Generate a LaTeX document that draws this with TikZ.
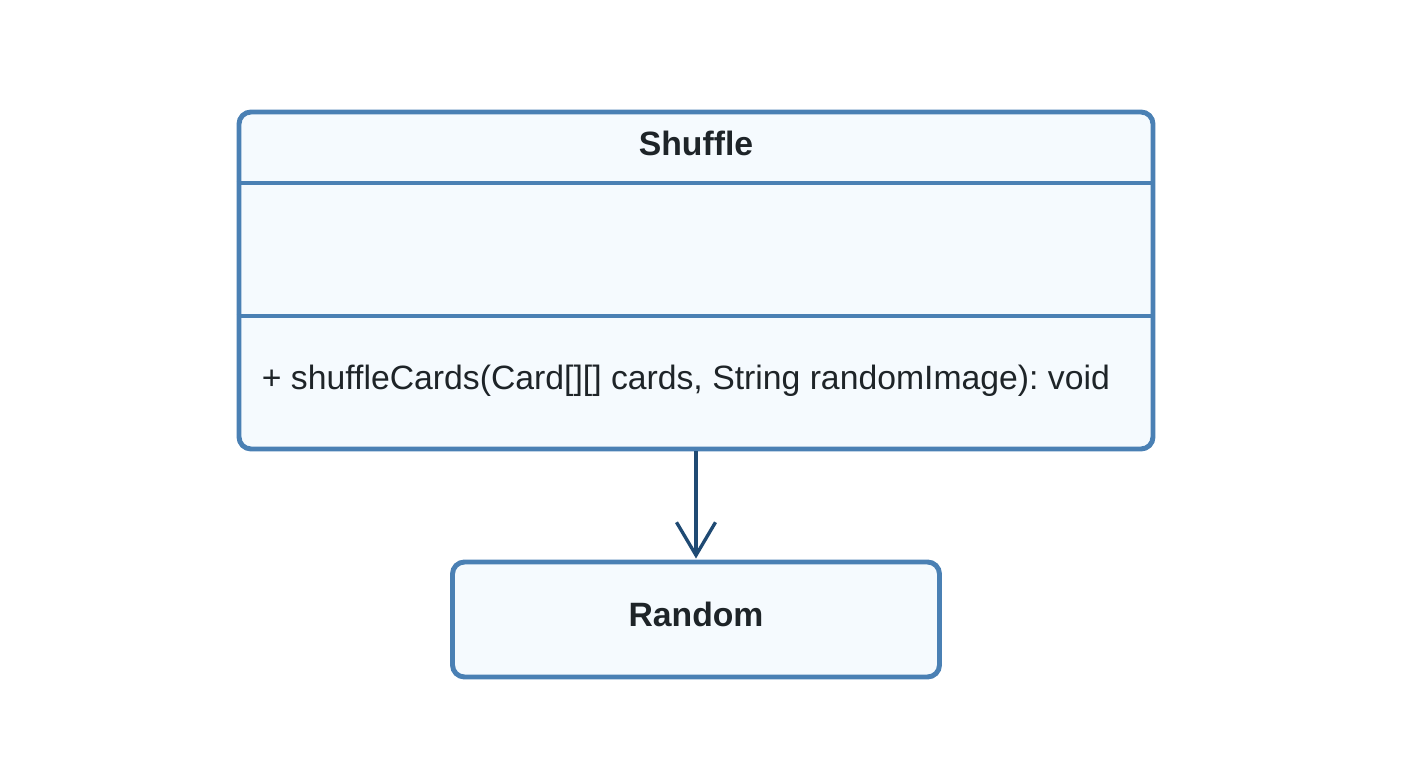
\documentclass[tikz,border=0pt]{standalone}
\usepackage{fontspec}
\setmainfont{Liberation Sans}
\usetikzlibrary{calc, positioning, arrows.meta}
\definecolor{classline}{HTML}{4A80B4}
\definecolor{classfill}{HTML}{F5FAFE}
\definecolor{assocline}{HTML}{1F4A73}
\definecolor{umltext}{HTML}{1E2428}
\frenchspacing

\begin{document}
\begin{tikzpicture}[>={Straight Barb[length=0.66cm,width=0.78cm]},semithick,
        every node/.style={text=umltext, font=\fontsize{19.2}{22}\selectfont}]
        \tikzstyle{umlclass}=[draw=classline,fill=classfill,line width=2.8pt,rounded corners=0.24cm,inner sep=0pt]
        \tikzstyle{umldivider}=[draw=classline,line width=2.8pt]
        \useasboundingbox (0,0) rectangle (28.16,-15.34);
        % class Shuffle
        \node[umlclass, minimum width=18.28cm, minimum height=6.74cm](shuffle) at (13.92,-5.61) {};
        \node[font=\bfseries\fontsize{19.2}{22}\selectfont](title) at ($(shuffle.north)+(0,-0.68)$) {Shuffle};
        \path[umldivider] ([yshift=-1.47cm]shuffle.north west) -- ([yshift=-1.47cm]shuffle.north east);
        \path[umldivider] ([yshift=-4.13cm]shuffle.north west) -- ([yshift=-4.13cm]shuffle.north east);
        \node[anchor=west](op) at ($(shuffle.west)+(0.38,-2.01)$) {+ shuffleCards(Card[][] cards, String randomImage): void};
        % class Random
        \node[umlclass, minimum width=9.74cm, minimum height=2.3cm, text depth=0.2cm, font=\bfseries\fontsize{19.2}{22}\selectfont](random) at (13.92,-12.39) {Random};
        \path (shuffle) edge[->, draw=assocline, line width=1.9pt, shorten >=0.02cm] (random);
\end{tikzpicture}
\end{document}
